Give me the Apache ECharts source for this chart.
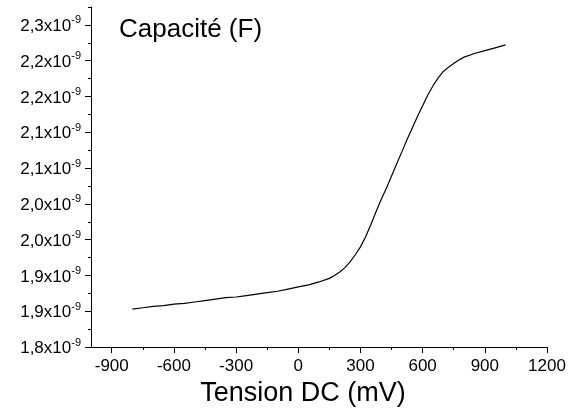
<!DOCTYPE html>
<html>
<head>
<meta charset="utf-8">
<script src="https://cdn.jsdelivr.net/npm/echarts@6/dist/echarts.min.js"></script>
<style>html,body{margin:0;padding:0;background:#fff}#c{width:578px;height:412px}</style>
</head>
<body>
<div id="c"></div>
<script>
// Tension DC (mV)
const tension = [-800,-750,-700,-650,-600,-550,-500,-450,-400,-350,-300,-250,-200,-150,-100,-50,0,50,100,150,175,200,225,250,275,300,325,350,375,400,425,450,475,500,525,550,575,600,625,650,675,700,725,750,775,800,850,900,950,1000];
// Capacité, in units of 1e-9 F
const capacite = [1.853,1.855,1.857,1.858,1.860,1.861,1.863,1.865,1.867,1.869,1.870,1.872,1.874,1.876,1.878,1.881,1.884,1.887,1.891,1.896,1.900,1.905,1.911,1.919,1.929,1.940,1.954,1.971,1.989,2.006,2.022,2.039,2.056,2.073,2.090,2.106,2.122,2.137,2.152,2.165,2.176,2.185,2.191,2.196,2.201,2.205,2.210,2.214,2.218,2.222];
// Axis ticks
const xTicks = [-900,-600,-300,0,300,600,900,1200];
const xMinorTicks = [-750,-450,-150,150,450,750,1050];
const yTicks = [1.80,1.85,1.90,1.95,2.00,2.05,2.10,2.15,2.20,2.25];
const yTickLabels = ['1,8','1,9','1,9','2,0','2,0','2,1','2,1','2,2','2,2','2,3'];
const yMinorTicks = [1.825,1.875,1.925,1.975,2.025,2.075,2.125,2.175,2.225,2.275];

const FONT = 'Liberation Sans';
const chart = echarts.init(document.getElementById('c'));
const axisLine = {show:true, onZero:false, lineStyle:{color:'#000', width:1}};
chart.setOption({
  animation:false,
  backgroundColor:'#fff',
  textStyle:{fontFamily:FONT},
  title:{text:'Capacité (F)', left:114, top:12, textStyle:{fontFamily:FONT, fontSize:26, fontWeight:'normal', color:'#000'}},
  grid:{left:91, right:31, top:7, bottom:64, containLabel:false},
  xAxis:[{
    type:'value', min:-1000, max:1200, position:'bottom',
    axisLine:axisLine,
    axisTick:{show:true, customValues:xTicks, length:6, lineStyle:{color:'#000'}},
    axisLabel:{customValues:xTicks, color:'#000', fontSize:17, margin:11, fontFamily:FONT, formatter:v=>String(v)},
    splitLine:{show:false},
    name:'Tension DC (mV)', nameLocation:'middle', nameGap:31,
    nameTextStyle:{fontSize:27, color:'#000', fontFamily:FONT, padding:[0,32,0,0]}
  },{
    type:'value', min:-1000, max:1200, position:'bottom',
    axisLine:{show:false, onZero:false},
    axisTick:{show:true, customValues:xMinorTicks, length:3, lineStyle:{color:'#000'}},
    axisLabel:{show:false}, splitLine:{show:false}
  }],
  yAxis:[{
    type:'value', min:1.80, max:2.275, position:'left',
    axisLine:axisLine,
    axisTick:{show:true, customValues:yTicks, length:6, lineStyle:{color:'#000'}},
    axisLabel:{customValues:yTicks, margin:10, color:'#000',
      formatter:function(v){const i=Math.round((v-1.80)/0.05);return '{a|'+yTickLabels[i]+'x10}{b|-9}';},
      rich:{a:{fontSize:17, fontFamily:FONT, color:'#000', lineHeight:20, verticalAlign:'bottom'},
            b:{fontSize:11, fontFamily:FONT, color:'#000', lineHeight:20, verticalAlign:'top', padding:[0,0,6,0]}}},
    splitLine:{show:false}
  },{
    type:'value', min:1.80, max:2.275, position:'left',
    axisLine:{show:false, onZero:false},
    axisTick:{show:true, customValues:yMinorTicks, length:3, lineStyle:{color:'#000'}},
    axisLabel:{show:false}, splitLine:{show:false}
  }],
  series:[{
    type:'line', xAxisIndex:0, yAxisIndex:0, showSymbol:false, smooth:false,
    data:tension.map((t,i)=>[t,capacite[i]]),
    lineStyle:{color:'#000', width:1.2}
  }]
});
</script>
</body>
</html>
